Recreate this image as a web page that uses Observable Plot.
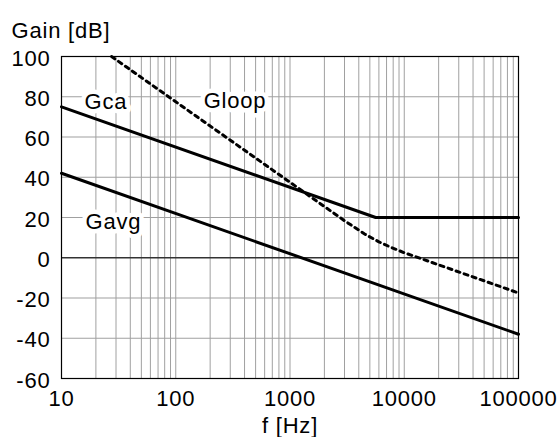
<!DOCTYPE html>
<html>
<head>
<meta charset="utf-8">
<script src="https://cdn.jsdelivr.net/npm/d3@7"></script>
<script src="https://cdn.jsdelivr.net/npm/@observablehq/plot@0.6"></script>
<style>
  html, body { margin: 0; padding: 0; background: white; }
</style>
</head>
<body>
<div id="chart"></div>
<script>
// Frequencies in Hz, gains in dB
const gcaF = [10, 5623, 100000];
const gcaG = [75, 20, 20];

const gavgF = [10, 100000];
const gavgG = [42, -38];

const gloopF = [27.4, 100, 1000, 3000, 4500, 6000, 7500, 10000, 100000];
const gloopG = [100, 77.5, 37.5, 18.4, 11.8, 7.9, 5.4, 2.5, -17.5];

const labelNames = ["Gca", "Gloop", "Gavg"];
const labelF = [24.5, 330, 28.5];
const labelG = [77.5, 78, 18];

const xTicks = [10, 100, 1000, 10000, 100000];
const yTicks = [-60, -40, -20, 0, 20, 40, 60, 80, 100];

const gridF = [];
for (let d = 10; d < 100000; d *= 10) for (let k = 1; k <= 9; k++) gridF.push(k * d);
gridF.push(100000);

const toRows = (fs, gs) => fs.map((f, i) => ({f, g: gs[i]}));
const gca = toRows(gcaF, gcaG);
const gavg = toRows(gavgF, gavgG);
const gloop = toRows(gloopF, gloopG);
const labels = labelNames.map((name, i) => ({name, f: labelF[i], g: labelG[i]}));

const chart = Plot.plot({
  width: 559,
  height: 437,
  marginLeft: 61,
  marginRight: 41,
  marginTop: 56,
  marginBottom: 59,
  style: {
    fontSize: "22px",
    fontFamily: "'Liberation Sans', Arial, sans-serif",
    letterSpacing: "0.8px",
    background: "white",
    color: "black"
  },
  x: {type: "log", domain: [10, 100000]},
  y: {domain: [-60, 100]},
  marks: [
    Plot.ruleX(gridF, {x: d => d, stroke: "#a0a0a0", strokeWidth: 1, strokeOpacity: 1}),
    Plot.ruleY(yTicks.filter(v => v !== 0 && v !== -60 && v !== 100), {y: d => d, stroke: "#a0a0a0", strokeWidth: 1.2, strokeOpacity: 1}),
    Plot.ruleY([0], {y: d => d, stroke: "#333", strokeWidth: 1.5}),
    Plot.frame({stroke: "black", strokeWidth: 1.2}),
    Plot.line(gavg, {x: "f", y: "g", stroke: "black", strokeWidth: 3}),
    Plot.line(gca, {x: "f", y: "g", stroke: "black", strokeWidth: 3}),
    Plot.line(gloop, {x: "f", y: "g", stroke: "black", strokeWidth: 3, strokeDasharray: "4,4.5"}),
    Plot.text(labels, {x: "f", y: "g", text: "name", fill: "black", stroke: "white", strokeWidth: 9, fontSize: 22, textAnchor: "middle", lineAnchor: "middle"}),
    Plot.axisX({ticks: xTicks, tickFormat: d => String(d), tickSize: 0, tickPadding: 12, label: "f [Hz]", labelAnchor: "center", labelArrow: "none", labelOffset: 54}),
    Plot.axisY({ticks: yTicks, tickFormat: d => String(d), tickSize: 0, tickPadding: 11, label: null, dy: 2}),
    Plot.text(["Gain [dB]"], {frameAnchor: "top-left", dx: -50, dy: -19, text: d => d, textAnchor: "start", lineAnchor: "bottom", fontSize: 22})
  ]
});
document.getElementById("chart").appendChild(chart);
</script>
</body>
</html>
